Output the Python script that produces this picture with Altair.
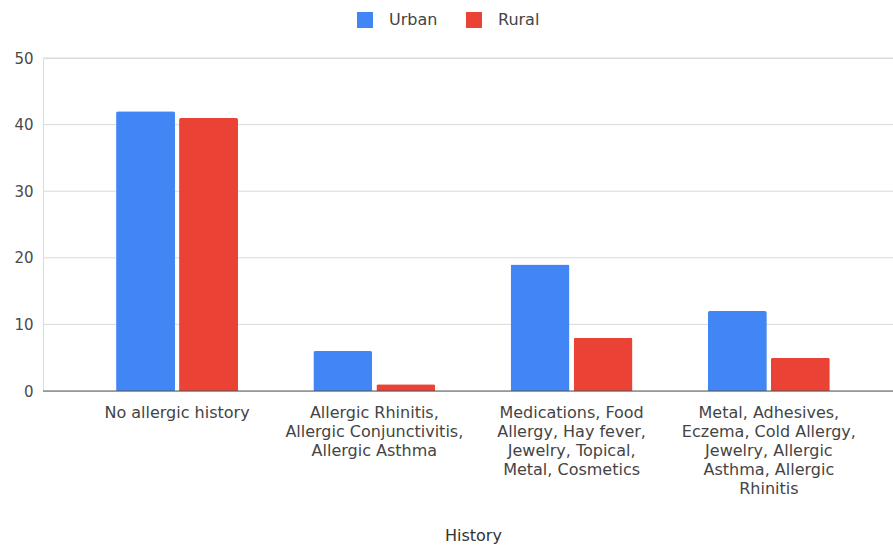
import altair as alt
import pandas as pd

# Allergy history groups (line breaks give the wrapped axis labels)
history = [
    "No allergic history",
    "Allergic Rhinitis,\nAllergic Conjunctivitis,\nAllergic Asthma",
    "Medications, Food\nAllergy, Hay fever,\nJewelry, Topical,\nMetal, Cosmetics",
    "Metal, Adhesives,\nEczema, Cold Allergy,\nJewelry, Allergic\nAsthma, Allergic\nRhinitis",
]
series = ["Urban", "Rural"]
urban = [42, 6, 19, 12]
rural = [41, 1, 8, 5]
y_ticks = [0, 10, 20, 30, 40, 50]

rows = []
for name, vals in zip(series, [urban, rural]):
    for cat, v in zip(history, vals):
        rows.append({"History": cat, "series": name, "count": v})
df = pd.DataFrame(rows)

FONT = "DejaVu Sans"
PLOT_W = 850
PLOT_H = 333

y_scale = alt.Scale(domain=[0, 50], nice=False)
y_axis = alt.Axis(
    title=None,
    values=y_ticks,
    ticks=False,
    domain=False,
    grid=False,
    labelFont=FONT,
    labelFontSize=15,
    labelColor="#4a4a4a",
    labelPadding=10,
)

# Horizontal gridlines spanning the whole plot width (a rule with only y spans the view)
grid = alt.Chart(pd.DataFrame({"count": y_ticks[1:]})).mark_rule(
    color="#dadada", strokeWidth=1
).encode(
    y=alt.Y("count:Q", scale=y_scale, axis=y_axis),
)

# Baseline at zero
baseline = alt.Chart(pd.DataFrame({"count": [0]})).mark_rule(
    color="#555555", strokeWidth=1
).encode(
    y=alt.Y("count:Q", scale=y_scale, axis=y_axis),
)

bars = alt.Chart(df).mark_bar(
    cornerRadiusTopLeft=2, cornerRadiusTopRight=2
).encode(
    x=alt.X(
        "History:N",
        sort=history,
        scale=alt.Scale(range=[35.4, 824.5], paddingInner=0.382, paddingOuter=0.191),
        axis=alt.Axis(
            title="History",
            labelAngle=0,
            labelExpr="split(datum.value, '\\n')",
            labelLineHeight=19,
            labelFontSize=16,
            labelFont=FONT,
            labelColor="#444444",
            labelPadding=13,
            labelBaseline="top",
            labelLimit=400,
            ticks=False,
            domain=False,
            titleFont=FONT,
            titleFontSize=16,
            titleFontWeight="normal",
            titleColor="#333333",
            titleY=144,
            titleBaseline="middle",
            grid=False,
        ),
    ),
    xOffset=alt.XOffset(
        "series:N", sort=series, scale=alt.Scale(paddingInner=0.065)
    ),
    y=alt.Y("count:Q", scale=y_scale, axis=y_axis),
    color=alt.Color(
        "series:N",
        sort=series,
        scale=alt.Scale(domain=series, range=["#4285F4", "#EA4335"]),
        legend=alt.Legend(
            title=None,
            orient="none",
            direction="horizontal",
            legendX=314,
            legendY=-46,
            symbolType="square",
            symbolSize=256,
            symbolStrokeWidth=0,
            symbolOpacity=1,
            labelFont=FONT,
            labelFontSize=16,
            labelColor="#444444",
            labelOffset=16,
            columnPadding=28,
            padding=0,
        ),
    ),
)

chart = (
    alt.layer(grid, bars, baseline)
    .properties(
        width=PLOT_W,
        height=PLOT_H,
        autosize=alt.AutoSizeParams(type="none"),
        padding={"left": 43, "top": 58, "right": 0, "bottom": 157},
    )
    .configure_view(strokeWidth=0, stroke="transparent")
    .configure_axis(domain=False, grid=False, ticks=False)
    .configure(background="white")
)

chart.save("out.html", embed_options={"renderer": "svg", "actions": False})
